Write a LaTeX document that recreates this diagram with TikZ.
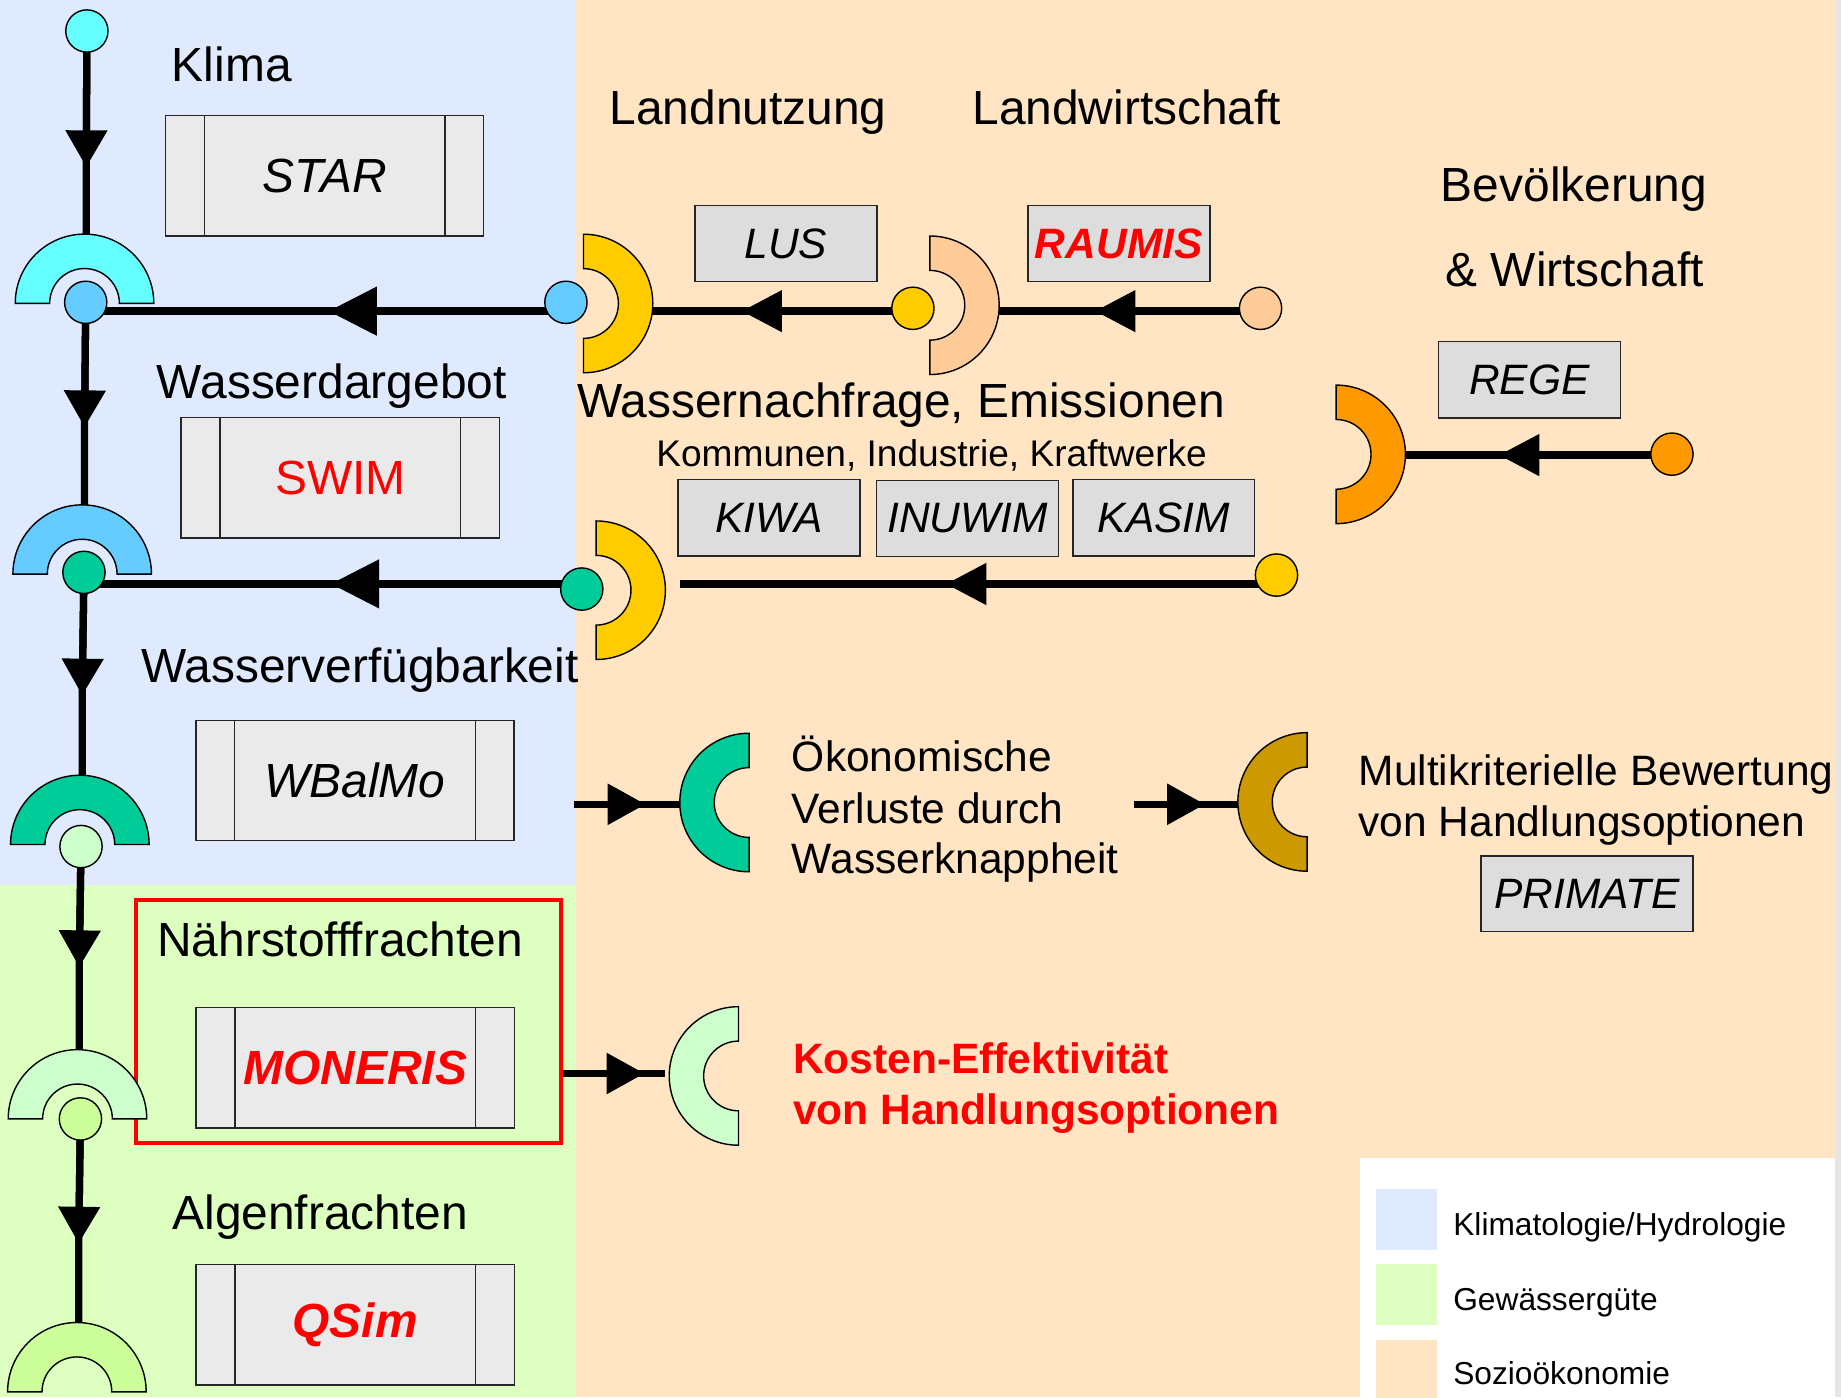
\documentclass[tikz,border=0pt]{standalone}
\usepackage{fontspec}
\setmainfont{Liberation Sans}
\usetikzlibrary{arrows.meta}
\pgfdeclarelayer{bglayer}
\pgfdeclarelayer{linelayer}
\pgfsetlayers{bglayer,linelayer,main}
\definecolor{bgblue}{HTML}{DFEAFF}
\definecolor{bggreen}{HTML}{DDFFC0}
\definecolor{bgpeach}{HTML}{FFE5C3}
\definecolor{edgegray}{HTML}{E6E6E6}
\definecolor{procgray}{HTML}{EAEAEA}
\definecolor{modgray}{HTML}{DDDDDD}
\definecolor{cCyan}{HTML}{66FFFF}
\definecolor{cSky}{HTML}{66CCFF}
\definecolor{cTeal}{HTML}{00CC99}
\definecolor{cMint}{HTML}{CCFFCC}
\definecolor{cLime}{HTML}{CCFF99}
\definecolor{cYellow}{HTML}{FFCC00}
\definecolor{cApricot}{HTML}{FFCC99}
\definecolor{cOrange}{HTML}{FF9900}
\definecolor{cGold}{HTML}{CC9900}
\definecolor{cRed}{HTML}{FF0000}
\newcommand{\FBig}{\fontsize{40.8}{48}\selectfont}
\newcommand{\FMid}{\fontsize{36.2}{43}\selectfont}
\newcommand{\FSml}{\fontsize{31.6}{37}\selectfont}
\newcommand{\FLeg}{\fontsize{27}{32}\selectfont}
\tikzset{
  ringup/.pic={\path[pic actions] (-59,0) arc[start angle=180,end angle=360,radius=59] -- (29.7,0) arc[start angle=360,end angle=180,radius=29.7] -- cycle;},
  ringD/.pic={\path[pic actions] (0,-59) arc[start angle=-90,end angle=90,radius=59] -- (0,29.7) arc[start angle=90,end angle=-90,radius=29.7] -- cycle;},
  ringC/.pic={\path[pic actions] (0,-59) arc[start angle=270,end angle=90,radius=59] -- (0,29.7) arc[start angle=90,end angle=270,radius=29.7] -- cycle;},
}
\begin{document}
\begin{tikzpicture}[x=1pt,y=-1pt,
  flow/.style={line width=6.2pt},
  arrDown/.style={-{Triangle[length=31pt,width=36pt,line width=0pt]}},
  arrLeftBig/.style={-{Triangle[length=41pt,width=42pt,line width=0pt]}},
  arrLeft/.style={-{Triangle[length=34pt,width=36pt,line width=0pt]}},
  arrRight/.style={-{Triangle[length=32pt,width=35.5pt,line width=0pt]}},
  ringst/.style={draw=black,line width=1.2pt},
  circ/.style={circle,draw=black,line width=1.2pt,minimum size=36pt,inner sep=0pt},
  procbox/.style={draw=black!85,fill=procgray,line width=1.2pt,minimum width=271pt,minimum height=102.5pt,inner sep=0pt,font=\FBig,
    path picture={\draw[black!85,line width=1.2pt]
      ([xshift=33pt]path picture bounding box.north west) -- ([xshift=33pt]path picture bounding box.south west)
      ([xshift=-33pt]path picture bounding box.north east) -- ([xshift=-33pt]path picture bounding box.south east);}},
  modbox/.style={draw=black!85,fill=modgray,line width=1.2pt,minimum width=155pt,minimum height=65pt,inner sep=0pt,font=\FMid\itshape},
  lbl/.style={anchor=base west,inner sep=0pt,font=\FBig},
  swatch/.style={minimum width=52pt,minimum height=52pt,inner sep=0pt}
]
\useasboundingbox (0,0) rectangle (1568,1190);

% ---------- backgrounds ----------
\begin{pgfonlayer}{bglayer}
  \fill[edgegray] (0,0) rectangle (1568,1190);
  \fill[bgpeach] (0,0) rectangle (1563,1190);
  \fill[bgblue] (0,0) rectangle (490.6,753.4);
  \fill[bggreen] (0,753.4) rectangle (490.6,1190);
  \fill[white] (1158,986) rectangle (1563,1190);
\end{pgfonlayer}

% ---------- labels ----------
\node[lbl] (tKlima) at (146.2,69) {Klima};
\node[lbl] (tWd) at (133.5,339.3) {Wasserdargebot};
\node[lbl] (tWv) at (120,581) {Wasserverfügbarkeit};
\node[lbl] (tNf) at (133.7,814.7) {Nährstofffrachten};
\node[lbl] (tAf) at (146.7,1046.9) {Algenfrachten};
\node[lbl] (tLn) at (519,106) {Landnutzung};
\node[lbl] (tLw) at (828,106) {Landwirtschaft};
\node[lbl] (tBev) at (1227,172) {Bevölkerung};
\node[lbl] (tWi) at (1231,244) {\& Wirtschaft};
\node[lbl] (tWn) at (491.5,355.5) {Wassernachfrage, Emissionen};
\node[lbl,font=\FSml] (tKom) at (558.8,397) {Kommunen, Industrie, Kraftwerke};
\node[lbl,font=\FMid] (tOe1) at (674.3,656.7) {Ökonomische};
\node[lbl,font=\FMid] (tOe2) at (674.3,701) {Verluste durch};
\node[lbl,font=\FMid] (tOe3) at (674.3,743.7) {Wasserknappheit};
\node[lbl,font=\FMid\bfseries,text=cRed] (tKe1) at (675.2,914) {Kosten-Effektivität};
\node[lbl,font=\FMid\bfseries,text=cRed] (tKe2) at (675.2,957.5) {von Handlungsoptionen};
\node[lbl,font=\FMid] (tMk1) at (1157,668.6) {Multikriterielle Bewertung};
\node[lbl,font=\FMid] (tMk2) at (1157,712.7) {von Handlungsoptionen};

% ---------- model boxes ----------
\node[procbox] (star) at (276.5,149.75) {\itshape STAR};
\node[procbox,text=cRed] (swim) at (289.8,406.8) {SWIM};
\node[procbox] (wbalmo) at (302.4,664.7) {\itshape WBalMo};
\node[procbox,text=cRed] (moneris) at (302.5,909.3) {\bfseries\itshape MONERIS};
\node[procbox,text=cRed] (qsim) at (302.5,1128.3) {\bfseries\itshape QSim};
\node[draw=cRed,line width=3.6pt,minimum width=361.8pt,minimum height=207pt,inner sep=0pt] (redbox) at (296.6,870.1) {};

\node[modbox] (lus) at (669.3,207.5) {LUS};
\node[modbox,text=cRed,font=\FMid\bfseries\itshape] (raumis) at (952.9,207.5) {RAUMIS};
\node[modbox] (kiwa) at (654.9,441) {KIWA};
\node[modbox] (inuwim) at (824,441.5) {INUWIM};
\node[modbox] (kasim) at (991.2,441) {KASIM};
\node[modbox] (rege) at (1302.5,323.5) {REGE};
\node[modbox,minimum width=180.5pt,minimum height=64.6pt] (primate) at (1351.75,761.3) {PRIMATE};

% ---------- half rings ----------
\pic[ringst,fill=cCyan] at (72,258.4) {ringup};
\pic[ringst,fill=cSky] at (70,489) {ringup};
\pic[ringst,fill=cTeal] at (68,719.3) {ringup};
\pic[ringst,fill=cMint] at (66,953) {ringup};
\pic[ringst,fill=cLime] at (65.5,1185.4) {ringup};
\pic[ringst,fill=cYellow] at (497,258.5) {ringD};
\pic[ringst,fill=cApricot] at (792,260) {ringD};
\pic[ringst,fill=cOrange] at (1138,387) {ringD};
\pic[ringst,fill=cYellow] at (507.7,502.7) {ringD};
\pic[ringst,fill=cTeal] at (638,683.5) {ringC};
\pic[ringst,fill=cGold] at (1113.3,683) {ringC};
\pic[ringst,fill=cMint] at (629,916.4) {ringC};

% ring contact points and arrow tips
\coordinate (R1t) at (73.5,199.6);
\coordinate (R2t) at (72,430.2);
\coordinate (R3t) at (70,660.5);
\coordinate (R5t) at (67.5,894.2);
\coordinate (R7t) at (67,1126.6);
\coordinate (YR1o) at (553,265);
\coordinate (P1o) at (848,265);
\coordinate (ORo) at (1194,387.6);
\coordinate (HF) at (579.3,497.4);
\coordinate (HS7) at (489,685);
\coordinate (R4o) at (582,685);
\coordinate (HS8) at (966,685);
\coordinate (R8o) at (1057,685);
\coordinate (R6o) at (566,914.3);
\coordinate (a1) at (73.5,142);
\coordinate (a2) at (72,363.5);
\coordinate (a3) at (70,592);
\coordinate (a4) at (67.5,823.4);
\coordinate (a5) at (67,1058.8);
\coordinate (a6) at (280,265);
\coordinate (a7) at (632,265);
\coordinate (a8) at (933,265);
\coordinate (a9) at (1277,387.6);
\coordinate (a10) at (806,497.4);
\coordinate (a11) at (282,497.3);
\coordinate (a12) at (549.5,685);
\coordinate (a13) at (1026,685);
\coordinate (a14) at (548.6,914.3);

% ---------- circles ----------
\node[circ,fill=cCyan] (C0) at (74,26.4) {};
\node[circ,fill=cSky] (B1) at (73,257.5) {};
\node[circ,fill=cSky] (B1r) at (482,257.5) {};
\node[circ,fill=cTeal] (G1) at (71.5,487.5) {};
\node[circ,fill=cTeal] (G1r) at (495.5,501.7) {};
\node[circ,fill=cMint] (L1) at (69,721) {};
\node[circ,fill=cLime] (L2) at (68.5,953) {};
\node[circ,fill=cYellow] (Y1) at (777.5,262.6) {};
\node[circ,fill=cApricot] (P1c) at (1073.6,262.6) {};
\node[circ,fill=cOrange] (OC) at (1424,386.8) {};
\node[circ,fill=cYellow] (Y2) at (1087.2,489.8) {};

% ---------- connectors ----------
\begin{pgfonlayer}{linelayer}
  % vertical chain
  \draw[flow] (C0.center) -- (a1) -- (R1t);
  \draw[flow,arrDown] (C0.center) -- (a1);
  \draw[flow] (B1.center) -- (a2) -- (R2t);
  \draw[flow,arrDown] (B1.center) -- (a2);
  \draw[flow] (G1.center) -- (a3) -- (R3t);
  \draw[flow,arrDown] (G1.center) -- (a3);
  \draw[flow] (L1.center) -- (a4) -- (R5t);
  \draw[flow,arrDown] (L1.center) -- (a4);
  \draw[flow] (L2.center) -- (a5) -- (R7t);
  \draw[flow,arrDown] (L2.center) -- (a5);
  % horizontal feedbacks
  \draw[flow] (a6 -| B1r) -- (a6 -| B1);
  \draw[flow,arrLeftBig] (a6 -| B1r) -- (a6);
  \draw[flow] (a7 -| Y1) -- (YR1o);
  \draw[flow,arrLeft] (a7 -| Y1) -- (a7);
  \draw[flow] (a8 -| P1c) -- (P1o);
  \draw[flow,arrLeft] (a8 -| P1c) -- (a8);
  \draw[flow] (a9 -| OC) -- (ORo);
  \draw[flow,arrLeft] (a9 -| OC) -- (a9);
  \draw[flow] (a10 -| Y2) -- (HF);
  \draw[flow,arrLeft] (a10 -| Y2) -- (a10);
  \draw[flow] (a11 -| G1r) -- (a11 -| G1);
  \draw[flow,arrLeftBig] (a11 -| G1r) -- (a11);
  % outputs to the right
  \draw[flow] (HS7) -- (R4o);
  \draw[flow,arrRight] (HS7) -- (a12);
  \draw[flow] (HS8) -- (R8o);
  \draw[flow,arrRight] (HS8) -- (a13);
  \draw[flow] (a14 -| redbox.east) -- (R6o);
  \draw[flow,arrRight] (a14 -| redbox.east) -- (a14);
\end{pgfonlayer}

% ---------- legend ----------
\node[swatch,fill=bgblue] (swB) at (1198,1039) {};
\node[swatch,fill=bggreen] (swG) at (1198,1102.8) {};
\node[swatch,fill=bgpeach] (swP) at (1198,1167) {};
\node[lbl,font=\FLeg] (lgB) at (1237.6,1052) {Klimatologie/Hydrologie};
\node[lbl,font=\FLeg] (lgG) at (1237.6,1115.8) {Gewässergüte};
\node[lbl,font=\FLeg] (lgP) at (1237.6,1179.2) {Sozioökonomie};
\end{tikzpicture}
\end{document}
